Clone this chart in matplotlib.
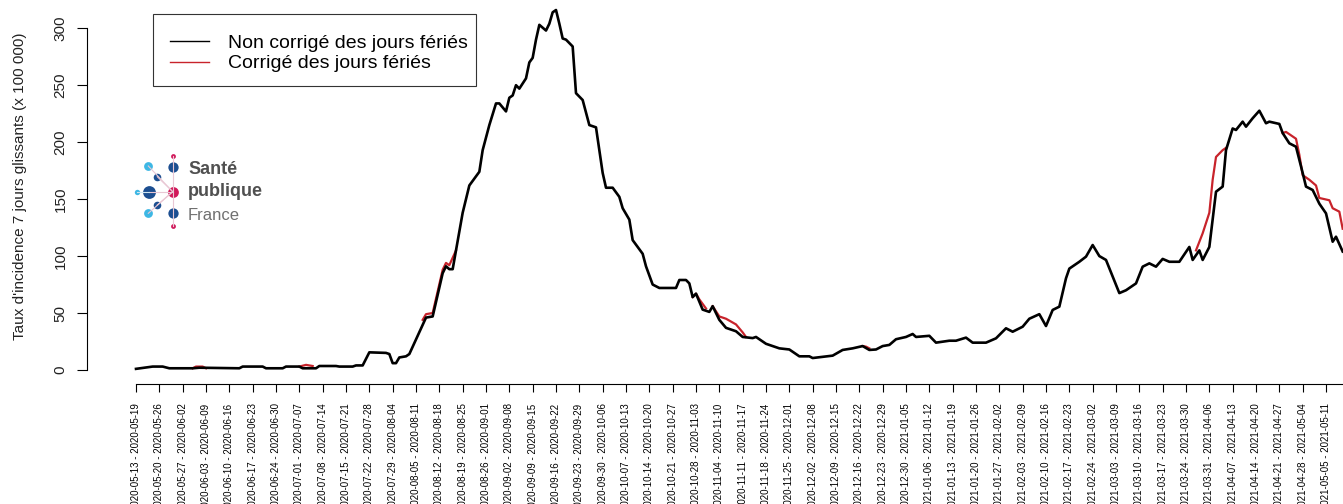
import matplotlib
matplotlib.use('Agg')
import matplotlib.pyplot as plt
import pandas as pd
from matplotlib.lines import Line2D
from matplotlib.patches import Rectangle

plt.rcParams['font.family'] = ['Liberation Sans', 'DejaVu Sans']

# days since 2020-05-13, incidence (non corrected)
days = [0, 5, 8, 10, 17, 19, 31, 32, 38, 39, 44, 45, 49, 50, 54, 55, 60, 61, 65, 66,
        68, 70, 75, 76, 77, 78, 79, 81, 82, 87, 89, 92, 93, 94, 95, 96, 98, 100, 103, 104,
        106, 108, 109, 111, 112, 113, 114, 115, 117, 118, 119, 120, 121, 123, 124, 125, 126, 127, 128, 129,
        131, 132, 134, 136, 138, 139, 140, 141, 143, 145, 146, 148, 149, 152, 153, 155, 157, 162, 163, 165,
        166, 167, 168, 170, 172, 173, 175, 177, 180, 182, 185, 186, 189, 193, 196, 199, 202, 203, 209, 212,
        215, 218, 220, 222, 224, 226, 228, 231, 233, 234, 238, 240, 244, 246, 249, 251, 255, 258, 261, 263,
        265, 266, 268, 271, 273, 275, 277, 279, 280, 283, 285, 287, 289, 291, 295, 297, 300, 302, 304, 306,
        308, 310, 313, 316, 317, 319, 320, 322, 323, 324, 326, 327, 329, 330, 332, 333, 335, 337, 339, 340,
        343, 344, 346, 348, 350, 351, 353, 355, 357, 359, 360, 362]
incid = [1, 3, 3, 1.5, 1.5, 2, 1.5, 3, 3, 1.5, 1.5, 3, 3, 1.5, 1.5, 3.5, 3.5, 3, 3, 4,
         4, 15.5, 15, 14, 6, 6, 11, 12, 14, 46, 47, 85, 91, 88.5, 88.5, 105, 138, 162, 174, 193,
         215, 234, 234, 227, 239, 241, 250, 247, 256, 270, 274, 290, 303, 298, 304, 314, 316, 304, 291, 290,
         284, 243, 237, 215, 213, 193, 173, 160, 160, 152, 142, 132, 114, 102, 91, 75, 72, 72, 79, 79,
         76, 64, 67, 53, 51, 56, 44, 37, 34, 29, 28, 29, 23, 19, 18, 12, 12, 10.5, 12.6, 17.6,
         19, 21, 17.6, 18, 21, 22, 27, 29, 31.6, 29, 30, 24, 25.7, 25.7, 28.4, 24, 24, 27.8, 36.6, 33.6,
         36.6, 38, 45, 49, 38.6, 52.7, 55.6, 80.5, 89, 95, 99.5, 109.7, 100, 96.6, 67.5, 70, 76, 90.7, 93.6, 90.7,
         97.5, 95, 95, 108, 96.6, 105, 96.6, 108, 132, 156.5, 161, 193, 212, 210.7, 218, 213.6, 221, 227.6, 216.6, 218,
         216, 208, 199, 196, 173, 161, 158, 146, 137.5, 112.6, 117, 104]

# corrected series, only where it differs (None = gap)
corr_days = [17, 18, 20, 21, None, 49, 51, 53, None,
             86, 87, 89, 92, 93, 94, 96, None,
             167, 168, 169, 171, None, 173, 175, 177, 180, 182, 183, None,
             218, 219, 220, None,
             318, 320, 322, 323, 324, 326, 327, None,
             344, 345, 348, 349, 350, 352, 354, 355, 358, 359, 361, 362]
corr_incid = [1.5, 3, 3, 1.5, None, 3, 4.5, 3.5, None,
              44, 49, 50, 88, 94, 92, 105, None,
              64, 67, 62, 54, None, 56, 47, 45, 40, 33, 29, None,
              21, 20.5, 19, None,
              105, 120, 138, 167, 187, 193, 195, None,
              208, 209, 203, 189, 171, 167, 162, 151, 149, 142, 139, 124]

week_starts = pd.date_range('2020-05-13', '2021-05-05', freq='7D')
week_labels = [f"{d:%Y-%m-%d} - {d + pd.Timedelta(days=6):%Y-%m-%d}" for d in week_starts]
week_pos = [(d - week_starts[0]).days for d in week_starts]

W, H = 1343, 504
fig = plt.figure(figsize=(W / 100, H / 100), dpi=100)
ax = fig.add_axes([87 / W, (H - 384) / H, 1 - 87 / W, 384 / H])

cd = [float('nan') if v is None else v for v in corr_days]
cv = [float('nan') if v is None else v for v in corr_incid]
ax.plot(cd, cv, color='#c8232b', lw=1.6)
ax.plot(days, incid, color='black', lw=1.9)

ax.set_xlim(-14.7, 362.1)
ax.set_ylim(-12.3, 324.8)
for s in ['top', 'right']:
    ax.spines[s].set_visible(False)
ax.spines['left'].set_bounds(0, 300)
ax.spines['bottom'].set_bounds(0, 362.1)

ax.set_yticks(range(0, 301, 50))
ax.set_yticklabels([str(v) for v in range(0, 301, 50)], rotation=90, va='center', fontsize=11, color='#222222')
ax.tick_params(axis='y', length=7, pad=7)
ax.set_xticks(week_pos)
ax.set_xticklabels(week_labels, rotation=90, fontsize=7, va='top')
ax.tick_params(axis='x', length=6, pad=8)

fig.text(20 / W, 1 - 186 / H, "Taux d'incidence 7 jours glissants (x 100 000)",
         rotation=90, ha='center', va='center', fontsize=11, color='#222222')

# legend box drawn in pixel space, entries from ax.legend without frame
handles = [Line2D([], [], color='black', lw=1), Line2D([], [], color='#c8232b', lw=1)]
leg = ax.legend(handles, ['Non corrigé des jours fériés', 'Corrigé des jours fériés'],
                loc='upper left', bbox_to_anchor=(170 / W, 1 - 34 / H), bbox_transform=fig.transFigure,
                borderaxespad=0, fontsize=14, frameon=False,
                handlelength=2.0, handletextpad=1.0, labelspacing=0.16, borderpad=0)

# logo + legend frame overlay in pixel coordinates
lg = fig.add_axes([0, 0, 1, 1], zorder=5)
lg.set_xlim(0, W)
lg.set_ylim(H, 0)
lg.axis('off')
lg.add_patch(Rectangle((153, 14), 323, 72, fill=False, edgecolor='#333333', lw=0.8))
navy, sky, pink = '#1d4f91', '#3db7e4', '#d1195b'
cx, cy = 172.7, 191.7
for px, py in [(149.3, 191.7), (157.3, 176.7), (157.3, 205), (148.3, 166), (148.3, 213.3)]:
    lg.plot([cx, px], [cy, py], color='#e9c7d4', lw=0.8)
lg.plot([172.7, 172.7], [156, 226], color='#e9c7d4', lw=0.8)
lg.plot([136.7, 149.3], [191.7, 191.7], color='#cfe6f2', lw=0.8)
dots = [(172.7, 156, pink, 12), (148.3, 166, sky, 40), (172.7, 166.7, navy, 55),
        (157.3, 176.7, navy, 30), (136.7, 191.7, sky, 15), (149.3, 191.7, navy, 85),
        (172.7, 191.7, pink, 60), (157.3, 205, navy, 30), (148.3, 213.3, sky, 40),
        (172.7, 213.3, navy, 55), (172.7, 226, pink, 12)]
for px, py, c, s in dots:
    lg.scatter([px], [py], s=s, color=c, linewidths=0)
lg.text(188, 170, 'Santé', fontsize=13, fontweight='bold', color='#505050', va='center')
lg.text(188, 191, 'publique', fontsize=13, fontweight='bold', color='#505050', va='center')
lg.text(188, 215, 'France', fontsize=12, color='#707070', va='center')

fig.savefig('out.png', dpi=100)
